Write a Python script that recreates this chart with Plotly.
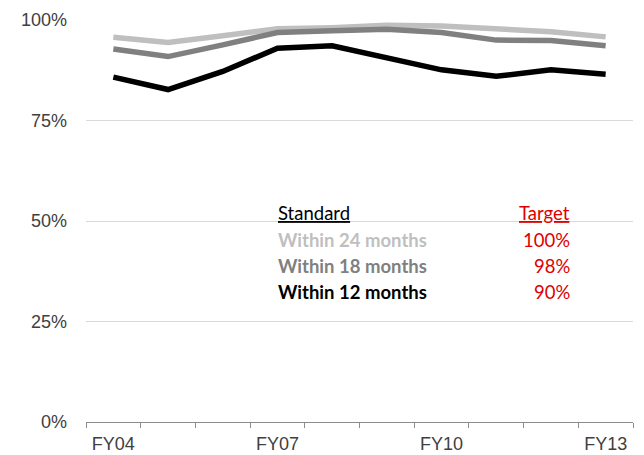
import plotly.graph_objects as go

categories = ["FY04", "FY05", "FY06", "FY07", "FY08", "FY09", "FY10", "FY11", "FY12", "FY13"]
tick_labels = ["FY04", "", "", "FY07", "", "", "FY10", "", "", "FY13"]
within_24 = [0.957, 0.944, 0.961, 0.978, 0.981, 0.987, 0.985, 0.979, 0.971, 0.958]
within_18 = [0.928, 0.909, 0.938, 0.969, 0.973, 0.977, 0.969, 0.950, 0.949, 0.936]
within_12 = [0.858, 0.827, 0.872, 0.930, 0.936, 0.905, 0.876, 0.860, 0.876, 0.865]

standards = ["Within 24 months", "Within 18 months", "Within 12 months"]
targets = ["100%", "98%", "90%"]
colors = ["#bfbfbf", "#808080", "#000000"]

fig = go.Figure()
for name, vals, col in zip(standards, [within_24, within_18, within_12], colors):
    fig.add_trace(go.Scatter(x=categories, y=vals, mode="lines", name=name,
                             line=dict(color=col, width=5.5), showlegend=False))

font_axis = dict(family="Arial", size=18, color="#404040")
fig.update_layout(
    width=644, height=455,
    margin=dict(l=78, r=19, t=12, b=41),
    paper_bgcolor="white", plot_bgcolor="white",
    xaxis=dict(type="category", tickmode="array", tickvals=categories, ticktext=tick_labels,
               tickson="boundaries", ticks="outside", ticklen=5, tickcolor="#8c8c8c",
               showline=True, linecolor="#8c8c8c", linewidth=1, showgrid=False,
               tickfont=font_axis, range=[-0.5, 9.5], automargin=False,
               ticklabelstandoff=5),
    yaxis=dict(range=[0, 1], tickmode="array", tickvals=[0, 0.25, 0.5, 0.75, 1.0],
               ticktext=["0%", "25%", "50%", "75%", "100%"],
               showgrid=True, gridcolor="#d9d9d9", gridwidth=1, zeroline=False,
               showline=False, ticks="", ticklabelstandoff=18, tickfont=font_axis,
               automargin=False),
)

lfont = "Lato"
fs = 18.5
fig.add_annotation(x=0.347, y=0.52, xref="paper", yref="paper", xanchor="left", yanchor="middle",
                   text="<u>Standard</u>", showarrow=False, font=dict(family=lfont, size=fs, color="#000000"))
fig.add_annotation(x=0.8885, y=0.52, xref="paper", yref="paper", xanchor="right", yanchor="middle",
                   text="<u>Target</u>", showarrow=False, font=dict(family=lfont, size=fs, color="#e00000"))
ys = [0.4527, 0.388, 0.3234]
for s, t, c, yy in zip(standards, targets, colors, ys):
    fig.add_annotation(x=0.347, y=yy, xref="paper", yref="paper", xanchor="left", yanchor="middle",
                       text="<b>" + s + "</b>", showarrow=False, font=dict(family=lfont, size=fs, color=c))
    fig.add_annotation(x=0.8885, y=yy, xref="paper", yref="paper", xanchor="right", yanchor="middle",
                       text=t, showarrow=False, font=dict(family=lfont, size=fs, color="#e00000"))

fig.write_html("out.html")
